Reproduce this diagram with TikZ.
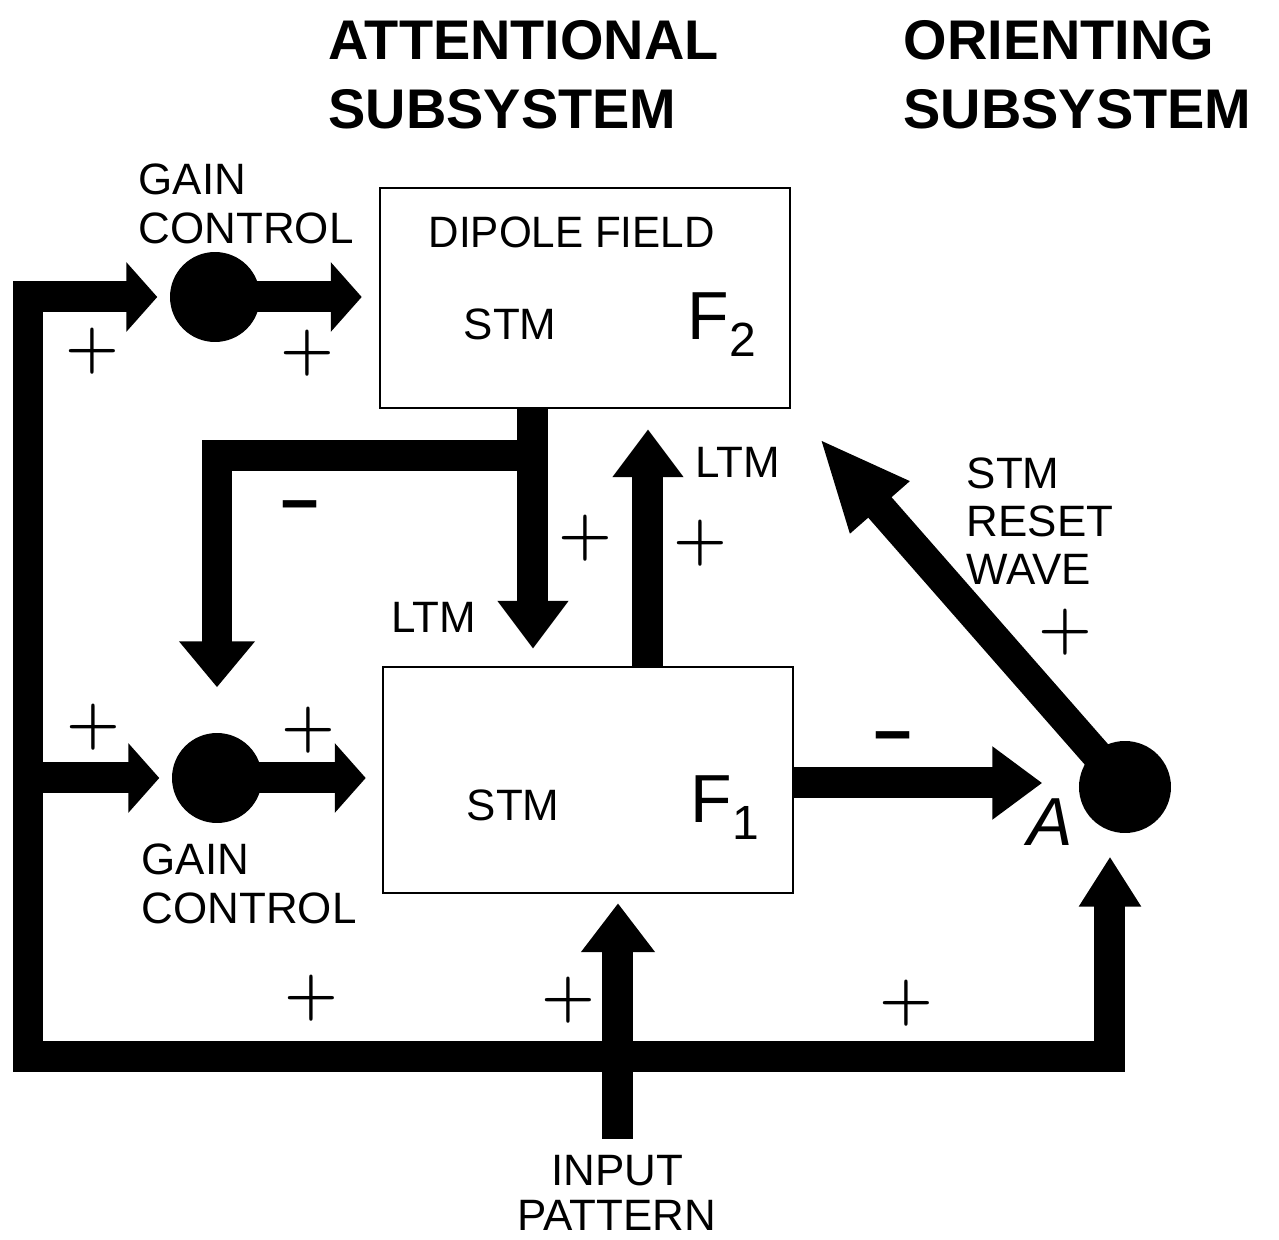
\documentclass[tikz,border=0pt]{standalone}
\usepackage{fontspec}
\newfontfamily\hv{Liberation Sans}
\newfontfamily\hvn[FakeStretch=0.96]{Liberation Sans}
\usetikzlibrary{arrows.meta,calc}
\pgfdeclarelayer{bg}
\pgfsetlayers{bg,main}
\tikzset{
  bar/.style={line width=3.1mm, line join=miter, line cap=butt},
  hd/.style={-{Triangle[length=4.8mm,width=6.8mm]}},
  hs/.style={-{Triangle[length=3.1mm,width=6.8mm]}},
  hr/.style={-{Triangle[length=9.2mm,width=7.2mm]}},
  fieldbox/.style={draw, line width=0.25mm, fill=white, minimum width=41mm, inner sep=0},
  gain/.style={circle, fill=black, minimum size=9mm, inner sep=0},
  lbl/.style={font=\hv\fontsize{12.5pt}{13.9pt}\selectfont, inner sep=0, anchor=north west, align=left},
  ttl/.style={font=\hv\bfseries\fontsize{15.9pt}{19.6pt}\selectfont, inner sep=0, anchor=north west, align=left},
  pl/.style={font=\bfseries\fontsize{17.5pt}{18pt}\selectfont, inner sep=0},
  mn/.style={font=\hv\bfseries\fontsize{19pt}{20pt}\selectfont, inner sep=0},
  fl/.style={font=\hv\fontsize{19.35pt}{20pt}\selectfont, inner sep=0, anchor=base west},
}
\begin{document}
\begin{tikzpicture}[x=0.1mm,y=-0.1mm]
\useasboundingbox (0,0) rectangle (1279,1240);
% main nodes
\node[fieldbox, minimum height=22mm] (F2) at (585,298) {};
\node[fieldbox, minimum height=22.6mm] (F1) at (588,780) {};
\node[gain] (gc1) at (215,297) {};
\node[gain] (gc2) at (217,778) {};
\node[gain, minimum size=9.2mm] (A) at (1125,787) {};
% helper coordinates
\coordinate (cTL) at (28,297);
\coordinate (cBL) at (28,1057);
\coordinate (cBR) at (1110,1057);
\coordinate (inp) at (618,1139);
\coordinate (dn) at (533,456);
\coordinate (up) at (648,0);
% connectors
\begin{pgfonlayer}{bg}
\draw[bar,hs] (cBR) -- (cBL) -- (cTL) -- ($(gc1.west)+(-12,0)$);
\draw[bar,-{Triangle[length=5mm,width=5.9mm]}] (cBL) -- (cBR) -- ($(cBR |- A.south)+(0,23)$);
\draw[bar,hs] (cBL |- gc2) -- ($(gc2.west)+(-12,0)$);
\draw[bar,hs] (gc1.center) -- ($(F2.west |- gc1)+(-17,0)$);
\draw[bar,hs] (gc2.center) -- ($(F1.west |- gc2)+(-16,0)$);
\draw[bar,hd] (F2.south -| dn) -- ($(F1.north -| dn)+(0,-17)$);
\draw[bar,-{Triangle[length=4.6mm,width=7.3mm]}] (dn) -| ($(gc2.north)+(0,-45)$);
\draw[bar,hd] (F1.north -| up) -- ($(F2.south -| up)+(0,20)$);
\draw[bar,-{Triangle[length=5mm,width=7mm]}] ($(F1.east)+(0,3)$) -- ($(F1.east -| A.west)+(-36,3)$);
\draw[bar,-{Triangle[length=4.9mm,width=7.1mm]}] (inp) -- ($(F1.south -| inp)+(0,9)$);
\draw[bar,hr] (A.center) -- ($(F2.south east)+(28,29)$);
\end{pgfonlayer}
% titles
\node[ttl] (t1) at (328,20) {ATTENTIONAL\\SUBSYSTEM};
\node[ttl] (t2) at (903,20) {ORIENTING\\SUBSYSTEM};
% labels
\node[lbl] (g1) at (138,163) {GAIN\\CONTROL};
\node[lbl] (g2) at (141,843) {GAIN\\CONTROL};
\node[lbl, font=\hvn\fontsize{12.5pt}{13.9pt}\selectfont] (dp) at (428,216) {DIPOLE FIELD};
\node[lbl] (s2) at (463,308) {STM};
\node[lbl] (s1) at (466,789) {STM};
\node[lbl] (l2) at (695,447) {LTM};
\node[lbl] (l1) at (391,602) {LTM};
\node[lbl, font=\hv\fontsize{12.5pt}{13.66pt}\selectfont] (rw) at (966,457) {STM\\RESET\\WAVE};
\node[lbl, anchor=north, align=center, font=\hv\fontsize{12.5pt}{12.8pt}\selectfont] (ip) at (617,1155) {INPUT\\PATTERN};
\node[fl] (f2) at (687,340) {F\raisebox{-1.7mm}{\fontsize{13.66pt}{14pt}\selectfont 2}};
\node[fl] (f1) at (690,823) {F\raisebox{-1.7mm}{\fontsize{13.66pt}{14pt}\selectfont 1}};
\node[font=\hv\itshape\fontsize{19.35pt}{20pt}\selectfont, inner sep=0] (lA) at (1050,822) {A};
% signs
\node[pl] (p1) at (92,351) {+};
\node[pl] (p2) at (307,353) {+};
\node[pl] (p3) at (585,538) {+};
\node[pl] (p4) at (700,543) {+};
\node[pl] (p5) at (1065,632) {+};
\node[pl] (p6) at (93,727) {+};
\node[pl] (p7) at (308,730) {+};
\node[pl] (p8) at (311,998) {+};
\node[pl] (p9) at (568,1000) {+};
\node[pl] (p10) at (906,1003) {+};
\node[mn] (m1) at (300,514) {−};
\node[mn] (m2) at (893,745) {−};
\end{tikzpicture}
\end{document}
